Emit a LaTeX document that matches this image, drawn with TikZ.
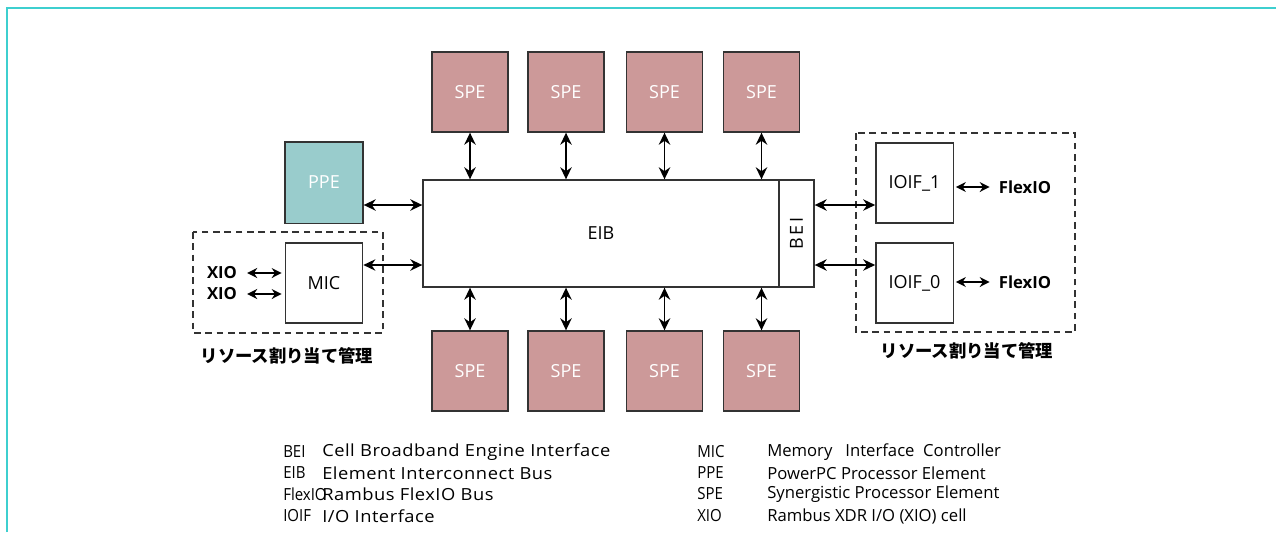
\documentclass[tikz,border=0pt]{standalone}
\usepackage{fontspec}
\setmainfont{Open Sans}
\newfontfamily\jpfont{Noto Sans CJK JP}
\newfontfamily\legwide[FakeStretch=1.1,LetterSpace=3]{Open Sans}
\newfontfamily\legcond[FakeStretch=0.9]{Open Sans}
\usetikzlibrary{arrows.meta,calc}
\definecolor{spec}{HTML}{CC9999}
\definecolor{ppec}{HTML}{99CCCC}
\definecolor{framec}{HTML}{3ECFCF}
\definecolor{edgec}{HTML}{333333}
\tikzset{
  blk/.style={draw=edgec,line width=1pt,rectangle,inner sep=0pt,font=\fontsize{13.5}{16}\selectfont},
  spebox/.style={blk,fill=spec,text=white,minimum width=57pt,minimum height=60pt},
  ppebox/.style={blk,fill=ppec,text=white,minimum width=58.5pt,minimum height=61pt},
  wbox/.style={blk,fill=white,text=black,minimum width=58pt,minimum height=60pt},
  conn/.style={line width=1.4pt,{Stealth[length=9pt,width=8.5pt]}-{Stealth[length=9pt,width=8.5pt]}},
  sconn/.style={line width=1.2pt,{Stealth[length=7.5pt,width=7.5pt]}-{Stealth[length=7.5pt,width=7.5pt]}},
  dbox/.style={draw=edgec,line width=0.8pt,dash pattern=on 5pt off 3.5pt},
  lab/.style={font=\fontsize{12.5}{15}\selectfont\bfseries,inner sep=0pt},
  jlab/.style={font=\fontsize{13}{15}\selectfont\jpfont\bfseries,inner sep=0pt},
  leg/.style={font=\fontsize{12.5}{14}\selectfont,anchor=west,inner sep=0pt},
  legab/.style={font=\fontsize{12.5}{14}\selectfont\legcond,anchor=west,inner sep=0pt},
  legw/.style={font=\fontsize{12.5}{14}\selectfont\legwide,anchor=west,inner sep=0pt},
}
\begin{document}
\begin{tikzpicture}[x=0.75pt,y=-0.75pt]
\useasboundingbox (0,0) rectangle (1276,532);
% frame
\draw[framec,line width=2pt] (7,532) -- (7,8) -- (1276,8);
% dashed groups
\draw[dbox] (193,232) rectangle (383,333);
\draw[dbox] (856,133) rectangle (1075,332);
% EIB and BEI
\node[blk,minimum width=267pt,minimum height=80.25pt,fill=white] (EIB) at (601,233.5) {EIB};
\node[blk,minimum width=26.25pt,minimum height=80.25pt,fill=white] (BEI) at (796.5,233.5) {\rotatebox{90}{B\hspace{2pt}E\hspace{2pt}I}};
% SPEs
\foreach \i/\x in {1/470,2/566,3/664.5,4/761.5}{
  \node[spebox] (ST\i) at (\x,92) {SPE};
  \node[spebox] (SB\i) at (\x,371) {SPE};
  \draw[conn] (ST\i.south) -- (ST\i.south |- EIB.north);
  \draw[conn] (SB\i.north) -- (SB\i.north |- EIB.south);
}
% PPE, MIC
\node[ppebox] (PPE) at (324,182.5) {PPE};
\node[wbox] (MIC) at (324,283) {MIC};
\draw[conn] ($(PPE.east)+(0,22.5)$) -- ($(EIB.west)+(0,-28.5)$);
\draw[conn] ($(MIC.east)+(0,-18)$) -- ($(EIB.west)+(0,31.5)$);
% XIO
\node[lab] (X1) at (222,273) {XIO};
\node[lab] (X2) at (222,294) {XIO};
\draw[sconn] ($(X1.east)+(10,0)$) -- ($(MIC.west |- X1)+(-3,0)$);
\draw[sconn] ($(X2.east)+(10,0)$) -- ($(MIC.west |- X2)+(-3,0)$);
% IOIF
\node[wbox] (IO1) at (914.5,183) {IOIF\_1};
\node[wbox] (IO0) at (914.5,283) {IOIF\_0};
\draw[conn] ($(BEI.east)+(0,-28.5)$) -- ($(IO1.west)+(0,22)$);
\draw[conn] ($(BEI.east)+(0,31.5)$) -- ($(IO0.west)+(0,-18)$);
\node[lab] (F1) at (1025,187) {FlexIO};
\node[lab] (F0) at (1025,282) {FlexIO};
\draw[sconn] ($(IO1.east |- F1)+(2,0)$) -- ($(F1.west)+(-9,0)$);
\draw[sconn] ($(IO0.east |- F0)+(2,0)$) -- ($(F0.west)+(-9,0)$);
% Japanese labels
\node[jlab] (JL) at (287,356) {リソース割り当て管理};
\node[jlab] (JR) at (967,351) {リソース割り当て管理};
% legend
\node[legab] (a1) at (283,452) {BEI};
\node[legw] (b1) at (322,452) {Cell Broadband Engine Interface};
\node[legab] (a2) at (283,473) {EIB};
\node[legw] (b2) at (322,473) {Element Interconnect Bus};
\node[legab] (a3) at (283,494) {FlexIO};
\node[legw] (b3) at (322,494) {Rambus FlexIO Bus};
\node[legab] (a4) at (283,516) {IOIF};
\node[legw] (b4) at (322,516) {I/O Interface};
\node[legab] (c1) at (697,452) {MIC};
\node[leg] (d1) at (767,452) {Memory\ \ \ Interface\ \ Controller};
\node[legab] (c2) at (697,473) {PPE};
\node[leg] (d2) at (767,473) {PowerPC Processor Element};
\node[legab] (c3) at (697,494) {SPE};
\node[leg] (d3) at (767,494) {Synergistic Processor Element};
\node[legab] (c4) at (697,516) {XIO};
\node[leg] (d4) at (767,516) {Rambus XDR I/O (XIO) cell};
\end{tikzpicture}
\end{document}
